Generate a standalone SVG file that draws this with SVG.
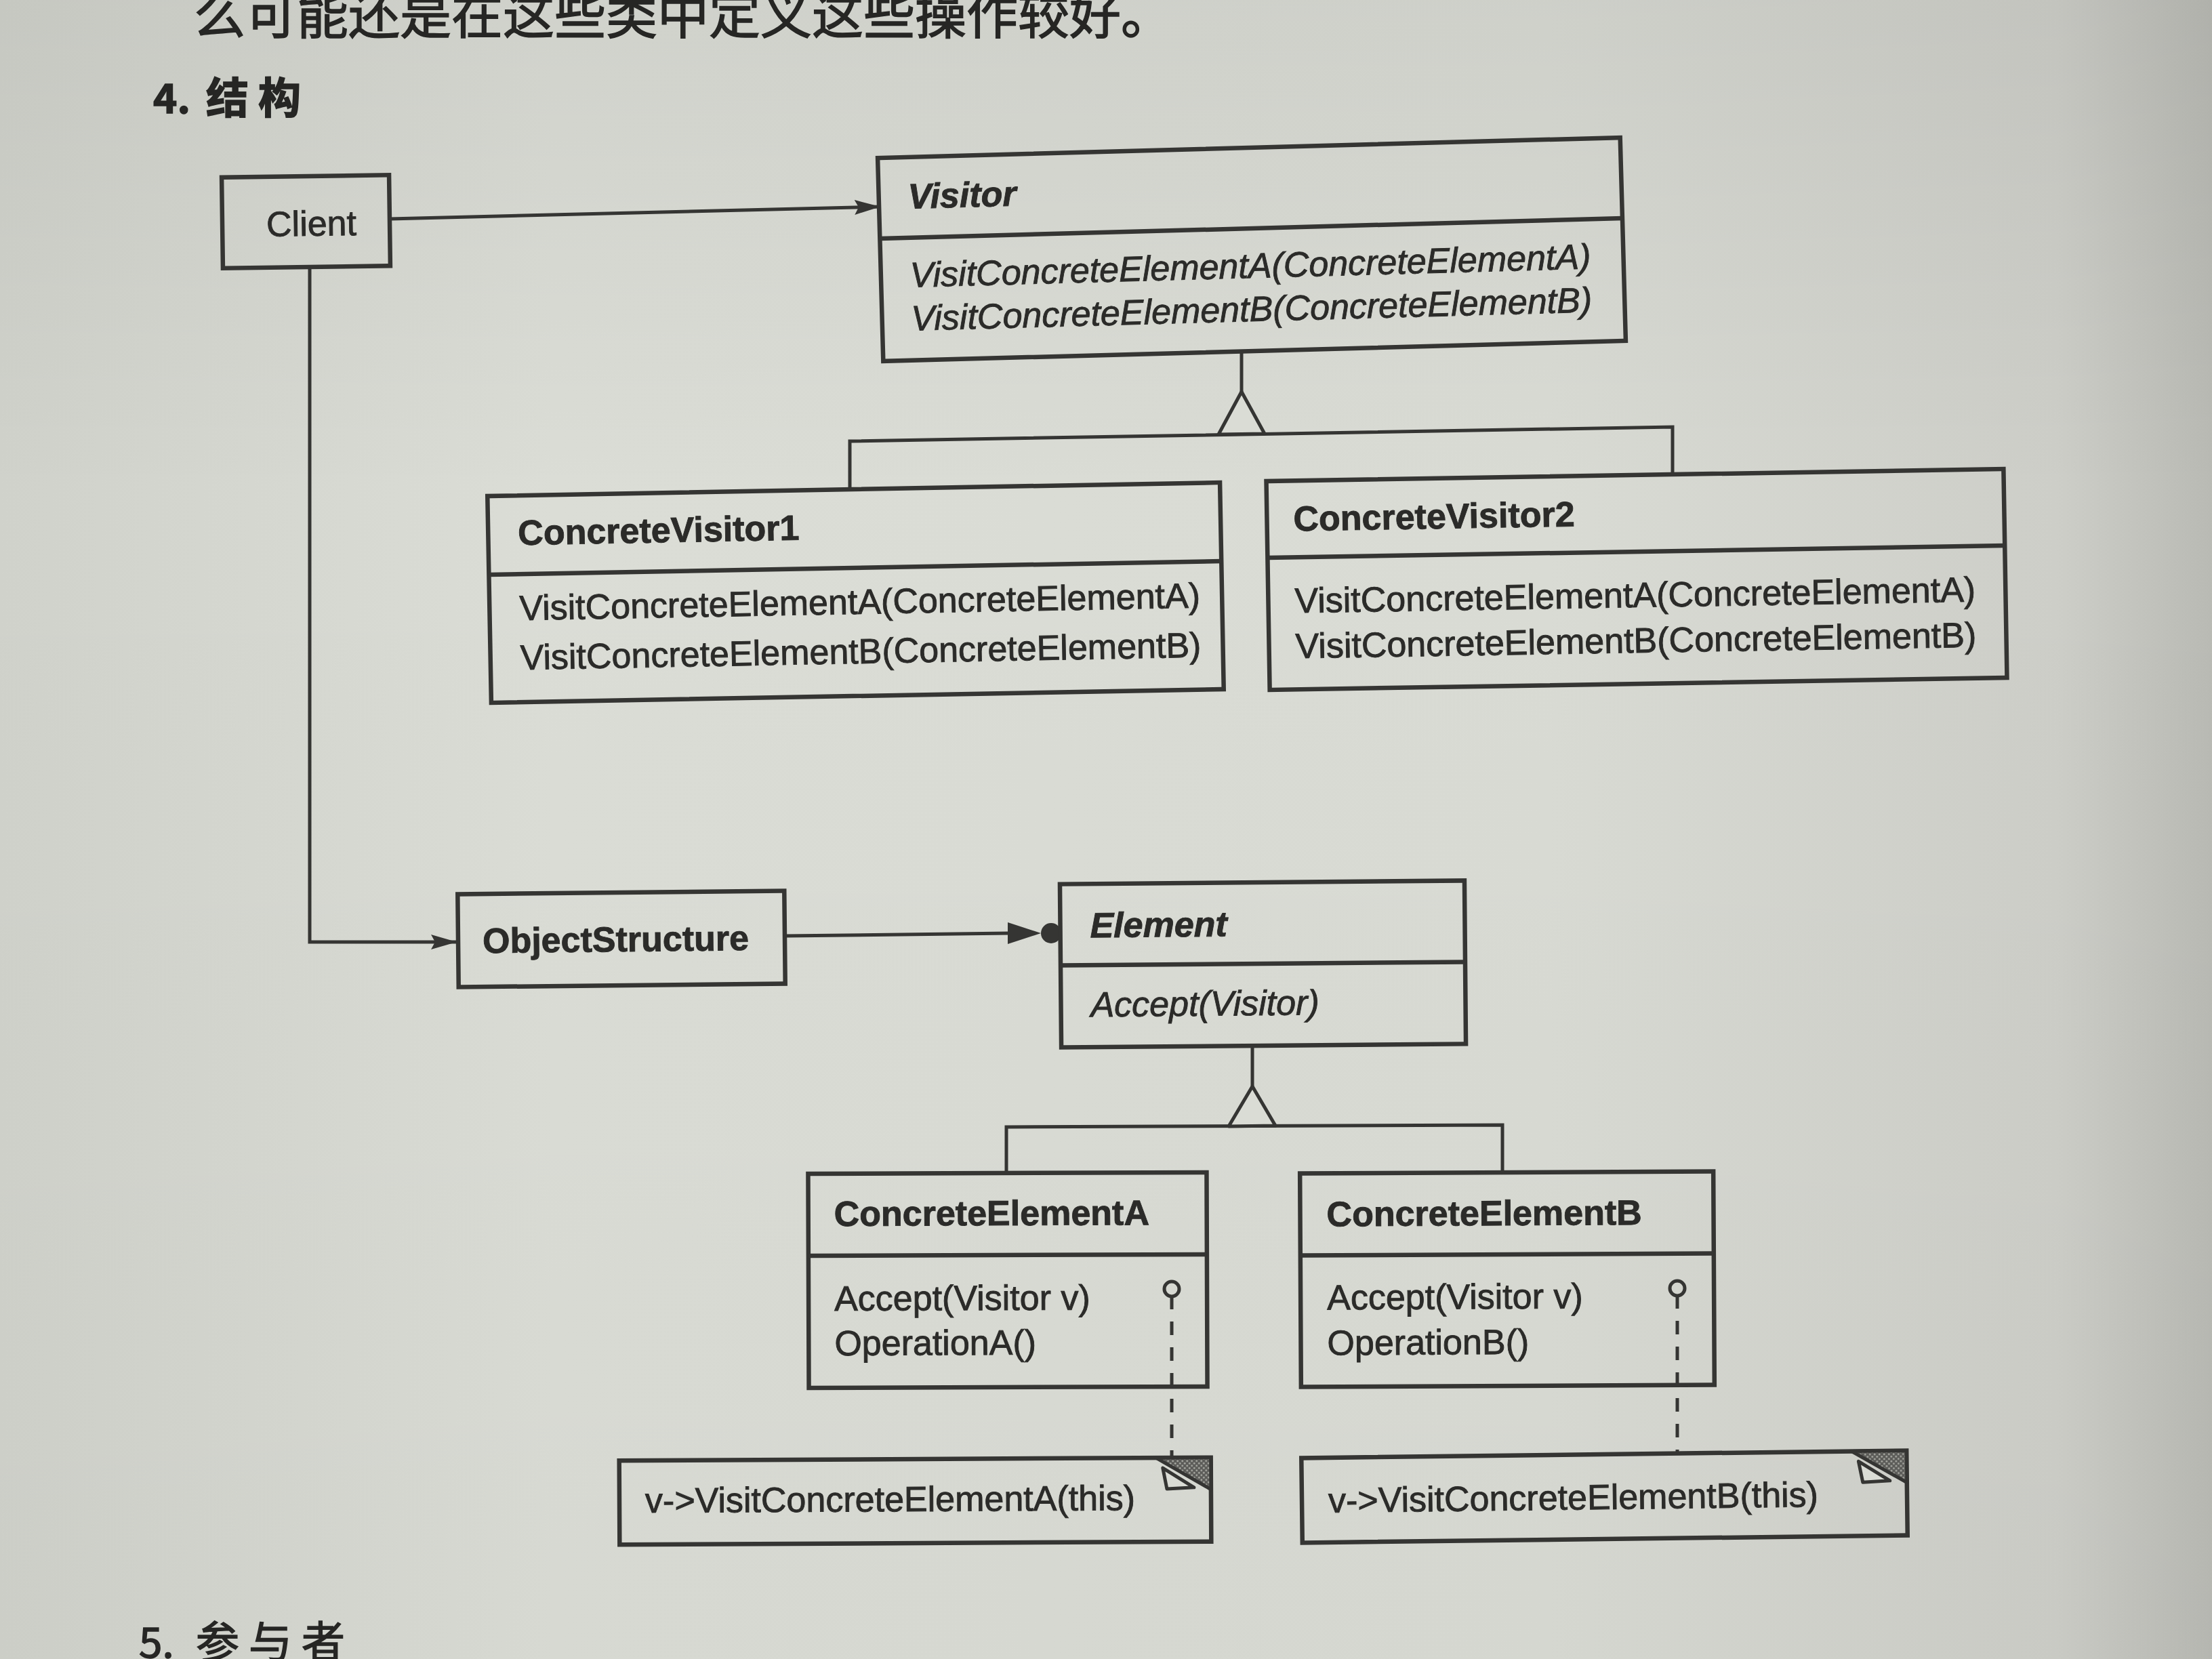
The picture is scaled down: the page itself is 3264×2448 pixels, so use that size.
<svg xmlns="http://www.w3.org/2000/svg" width="3264" height="2448" viewBox="0 0 3264 2448">
  <defs>
    <linearGradient id="paper" x1="0" y1="0" x2="1" y2="0">
      <stop offset="0" stop-color="#d0d2cb"/>
      <stop offset="0.25" stop-color="#dbddd6"/>
      <stop offset="0.7" stop-color="#d9dbd4"/>
      <stop offset="0.93" stop-color="#cdcec8"/>
      <stop offset="1" stop-color="#b9bab4"/>
    </linearGradient>
    <linearGradient id="paperV" x1="0" y1="0" x2="0" y2="1">
      <stop offset="0" stop-color="#000" stop-opacity="0.05"/>
      <stop offset="0.3" stop-color="#000" stop-opacity="0"/>
      <stop offset="1" stop-color="#000" stop-opacity="0.02"/>
    </linearGradient>
    <pattern id="stipple" width="7" height="7" patternUnits="userSpaceOnUse">
      <rect width="7" height="7" fill="#5a5a57"/>
      <circle cx="2" cy="2" r="1.4" fill="#a9aaa3"/>
      <circle cx="5.5" cy="5.5" r="1.4" fill="#a9aaa3"/>
    </pattern>
    <marker id="arrow" viewBox="0 0 38 22" refX="38" refY="11" markerWidth="38" markerHeight="22" markerUnits="userSpaceOnUse" orient="auto">
      <path d="M0,0 L38,11 L0,22 L6,11 z" fill="#353533"/>
    </marker>
    <style>
      .box { fill: none; stroke: #353533; stroke-width: 6.5; }
      .sep { stroke: #353533; stroke-width: 6.5; }
      .line { fill: none; stroke: #353533; stroke-width: 5; }
      .dash { fill: none; stroke: #353533; stroke-width: 5; stroke-dasharray: 20 18; }
      .head { fill: #dadcd5; stroke: #353533; stroke-width: 5; stroke-linejoin: round; }
      .solid { fill: #353533; stroke: none; }
      .t { font-family: "Liberation Sans", Arial, sans-serif; font-size: 52px; fill: #2b2b29; stroke: #2b2b29; stroke-width: 0.9; }
      .b { font-weight: bold; }
      .i { font-style: italic; }
      .cjk { font-family: "Noto Sans CJK SC", "Noto Sans", sans-serif; fill: #262624; stroke: #262624; stroke-width: 1.5; }
      .shade { fill: url(#stipple); stroke: #353533; stroke-width: 5; stroke-linejoin: round; }
      .flap { fill: #dadcd5; stroke: #353533; stroke-width: 5; stroke-linejoin: round; }
    </style>
  </defs>

  <!-- page -->
  <rect width="3264" height="2448" fill="url(#paper)"/>
  <rect width="3264" height="2448" fill="url(#paperV)"/>

  <!-- running text and section headings -->
  <text class="cjk" x="286" y="50" font-size="76" textLength="1444" lengthAdjust="spacing">么可能还是在这些类中定义这些操作较好。</text>
  <g id="heading-structure">
    <text class="cjk" x="226" y="167" font-size="60" font-weight="bold">4.</text>
    <text class="cjk" x="304" y="167" font-size="63" font-weight="bold" letter-spacing="14">结构</text>
  </g>
  <g id="heading-participants">
    <text class="cjk" x="205" y="2446" font-size="62">5.</text>
    <text class="cjk" x="289" y="2446" font-size="64" letter-spacing="14">参与者</text>
  </g>

  <!-- connectors -->
  <g id="connectors">
    <!-- Client knows Visitor -->
    <line class="line" x1="575" y1="323" x2="1299" y2="305" marker-end="url(#arrow)"/>
    <!-- Client knows ObjectStructure -->
    <polyline class="line" points="457,393 457,1390 674,1390" marker-end="url(#arrow)"/>
    <!-- ObjectStructure holds many Elements -->
    <line class="line" x1="1158" y1="1381" x2="1490" y2="1377"/>
    <polygon class="solid" points="1487,1361 1536,1377 1487,1393"/>
    <circle class="solid" cx="1551" cy="1377" r="15"/>
    <!-- Visitor inheritance -->
    <line class="line" x1="1832" y1="518" x2="1832" y2="578"/>
    <polyline class="line" points="1254,724 1254,651 2468,630 2468,700"/>
    <polygon class="head" points="1832,578 1866,640 1798,641"/>
    <!-- Element inheritance -->
    <line class="line" x1="1848" y1="1543" x2="1848" y2="1603"/>
    <polyline class="line" points="1485,1731 1485,1663 2217,1660 2217,1729"/>
    <polygon class="head" points="1848,1603 1882,1661 1813,1662"/>
    <!-- note anchors -->
    <circle class="line" cx="1729" cy="1902" r="11"/>
    <line class="line" x1="1729" y1="1913" x2="1729" y2="1932"/>
    <line class="dash" x1="1729" y1="1950" x2="1729" y2="2152"/>
    <circle class="line" cx="2475" cy="1901" r="11"/>
    <line class="line" x1="2475" y1="1912" x2="2475" y2="1931"/>
    <line class="dash" x1="2475" y1="1949" x2="2475" y2="2146"/>
  </g>

  <!-- classes -->
  <g id="client" transform="rotate(-0.8 451 327)">
    <rect class="box" x="328" y="260" width="247" height="134"/>
    <text class="t" x="393" y="348">Client</text>
  </g>

  <g id="visitor" transform="rotate(-1.57 1847 368)">
    <rect class="box" x="1299" y="218" width="1096" height="300"/>
    <line class="sep" x1="1299" y1="337" x2="2395" y2="337"/>
    <text class="t b i" x="1342" y="294">Visitor</text>
    <text class="t i" x="1342" y="410">VisitConcreteElementA(ConcreteElementA)</text>
    <text class="t i" x="1342" y="474">VisitConcreteElementB(ConcreteElementB)</text>
  </g>

  <g id="concrete-visitor-1" transform="rotate(-1.06 1262.5 874.5)">
    <rect class="box" x="722" y="722" width="1081" height="305"/>
    <line class="sep" x1="722" y1="838" x2="1803" y2="838"/>
    <text class="t b" x="766" y="795">ConcreteVisitor1</text>
    <text class="t" x="766" y="906">VisitConcreteElementA(ConcreteElementA)</text>
    <text class="t" x="766" y="979">VisitConcreteElementB(ConcreteElementB)</text>
  </g>

  <g id="concrete-visitor-2" transform="rotate(-0.95 2415 855)">
    <rect class="box" x="1871" y="701" width="1088" height="308"/>
    <line class="sep" x1="1871" y1="814" x2="2959" y2="814"/>
    <text class="t b" x="1910" y="775">ConcreteVisitor2</text>
    <text class="t" x="1910" y="896">VisitConcreteElementA(ConcreteElementA)</text>
    <text class="t" x="1910" y="963">VisitConcreteElementB(ConcreteElementB)</text>
  </g>

  <g id="object-structure" transform="rotate(-0.6 917 1385)">
    <rect class="box" x="676" y="1317" width="482" height="137"/>
    <text class="t b" x="712" y="1404">ObjectStructure</text>
  </g>

  <g id="element" transform="rotate(-0.5 1863 1422)">
    <rect class="box" x="1565" y="1302" width="597" height="241"/>
    <line class="sep" x1="1565" y1="1422" x2="2162" y2="1422"/>
    <text class="t b i" x="1609" y="1381">Element</text>
    <text class="t i" x="1609" y="1498">Accept(Visitor)</text>
  </g>

  <g id="concrete-element-a" transform="rotate(-0.2 1487 1889)">
    <rect class="box" x="1193" y="1731" width="588" height="316"/>
    <line class="sep" x1="1193" y1="1852" x2="1781" y2="1852"/>
    <text class="t b" x="1231" y="1808">ConcreteElementA</text>
    <text class="t" x="1231" y="1933">Accept(Visitor v)</text>
    <text class="t" x="1231" y="1999">OperationA()</text>
  </g>

  <g id="concrete-element-b" transform="rotate(-0.3 2224 1887)">
    <rect class="box" x="1919" y="1730" width="610" height="315"/>
    <line class="sep" x1="1919" y1="1851" x2="2529" y2="1851"/>
    <text class="t b" x="1958" y="1808">ConcreteElementB</text>
    <text class="t" x="1958" y="1931">Accept(Visitor v)</text>
    <text class="t" x="1958" y="1998">OperationB()</text>
  </g>

  <!-- notes -->
  <g id="note-a" transform="rotate(-0.3 1350 2215)">
    <rect class="box" x="914" y="2153" width="873" height="124"/>
    <polygon class="shade" points="1706,2153 1787,2153 1787,2200"/>
    <polygon class="flap" points="1716,2168 1722,2199 1762,2197"/>
    <text class="t" x="952" y="2230">v-&gt;VisitConcreteElementA(this)</text>
  </g>

  <g id="note-b" transform="rotate(-0.7 2367 2208)">
    <rect class="box" x="1921" y="2146" width="893" height="125"/>
    <polygon class="shade" points="2733,2146 2814,2146 2814,2193"/>
    <polygon class="flap" points="2743,2161 2749,2192 2789,2190"/>
    <text class="t" x="1960" y="2227">v-&gt;VisitConcreteElementB(this)</text>
  </g>
</svg>
